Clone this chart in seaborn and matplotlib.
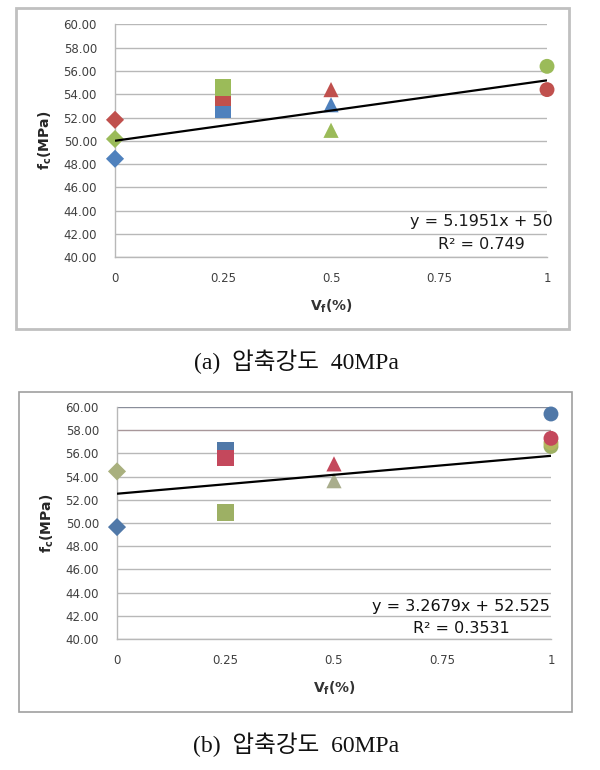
import numpy as np
import pandas as pd
import matplotlib
matplotlib.use("Agg")
import matplotlib.pyplot as plt
from matplotlib.patches import Rectangle
import seaborn as sns

# ---- data ----
vf_ticks = [0, 0.25, 0.5, 0.75, 1]
vf_tick_labels = ["0", "0.25", "0.5", "0.75", "1"]

# (a) 40 MPa
vf_40 = [0, 0, 0, 0.25, 0.25, 0.25, 0.5, 0.5, 0.5, 1, 1]
fc_40 = [48.45, 51.8, 50.15, 52.7, 53.7, 54.55, 53.1, 54.4, 50.9, 54.4, 56.4]
color_40 = ["blue", "red", "green", "blue", "red", "green",
            "blue", "red", "green", "red", "green"]
trend_40 = (5.1951, 50.0)          # slope, intercept
eq_40 = ["y = 5.1951x + 50", "R² = 0.749"]

# (b) 60 MPa
vf_60 = [0, 0, 0.25, 0.25, 0.25, 0.5, 0.5, 1, 1, 1, 1]
fc_60 = [49.65, 54.45, 56.3, 55.6, 50.9, 55.1, 53.65, 59.4, 56.6, 56.9, 57.3]
color_60 = ["blue", "olive", "blue", "red", "green", "red", "grey",
            "blue", "green", "yellow", "red"]
trend_60 = (3.2679, 52.525)
eq_60 = ["y = 3.2679x + 52.525", "R² = 0.3531"]

captions = ["(a)  압축강도  40MPa", "(b)  압축강도  60MPa"]

# ---- styling ----
pal_40 = {"blue": "#4f81bd", "red": "#c0504d", "green": "#9bbb59"}
pal_60 = {"blue": "#5078a8", "red": "#c4485c", "green": "#9db064",
          "olive": "#a9b07e", "grey": "#a9ad8c", "yellow": "#b4b65e"}
shape_of = {0: "diamond", 0.25: "square", 0.5: "triangle", 1: "circle"}
markers = {"diamond": "D", "square": "s", "triangle": "^", "circle": "o"}
sizes = {"diamond": 85, "square": 145, "triangle": 120, "circle": 115}

sns.set_theme(style="white")
plt.rcParams["font.family"] = ["DejaVu Sans", "Noto Sans CJK KR"]
plt.rcParams["mathtext.fontset"] = "dejavusans"

fig = plt.figure(figsize=(6, 7.7), dpi=100)

frames = [[0.0267, 0.5727, 0.9217, 0.4169], [0.0317, 0.0753, 0.9217, 0.4156]]
frame_style = [dict(ec="#c0c0c0", lw=2.0), dict(ec="#a0a0a0", lw=1.2)]
for rect, st in zip(frames, frame_style):
    fig.add_artist(Rectangle(rect[:2], rect[2], rect[3], transform=fig.transFigure,
                             fill=False, **st))

ax1 = fig.add_axes([0.1917, 0.6662, 0.72, 0.302])
ax2 = fig.add_axes([0.195, 0.1701, 0.7233, 0.3013])

panels = [
    (ax1, vf_40, fc_40, color_40, pal_40, trend_40, eq_40, (0.847, 43.05, 41.07), "#1a1a1a"),
    (ax2, vf_60, fc_60, color_60, pal_60, trend_60, eq_60, (0.793, 42.78, 40.87), "#111111"),
]

for ax, vf, fc, col, pal, trend, eq, eqpos, eqcol in panels:
    df = pd.DataFrame({"vf": vf, "fc": fc, "series": col,
                       "shape": [shape_of[v] for v in vf]})
    sns.scatterplot(data=df, x="vf", y="fc", hue="series", style="shape", size="shape",
                    palette=pal, markers=markers, sizes=sizes, linewidth=0,
                    legend=False, ax=ax, clip_on=False, zorder=3)
    tx = np.array([0.0, 1.0])
    ax.plot(tx, trend[0] * tx + trend[1], color="black", lw=1.6, zorder=4,
            solid_capstyle="butt")

    ax.set_xlim(0, 1)
    ax.set_ylim(40, 60)
    ax.set_xticks(vf_ticks)
    ax.set_xticklabels(vf_tick_labels)
    ax.set_yticks(np.arange(40, 61, 2))
    ax.yaxis.set_major_formatter("{x:.2f}")
    ax.tick_params(length=0, labelsize=8.5, labelcolor="#404040")
    ax.tick_params(axis="x", pad=11)
    ax.tick_params(axis="y", pad=13)
    ax.grid(axis="y", color="#b8b8b8", lw=1.0)
    ax.set_axisbelow(True)
    for s in ["top", "right"]:
        ax.spines[s].set_visible(False)
    for s in ["left", "bottom"]:
        ax.spines[s].set_color("#b8b8b8")
        ax.spines[s].set_linewidth(1.0)

    ax.set_ylabel(r"$\mathbf{f_c}$(MPa)", fontsize=10, fontweight="bold",
                  color="#262626", labelpad=7)
    ax.set_xlabel(r"$\mathbf{V_f}$(%)", fontsize=10, fontweight="bold",
                  color="#333333", labelpad=9)

    ax.text(eqpos[0], eqpos[1], eq[0], ha="center", va="center",
            fontsize=11.5, color=eqcol)
    ax.text(eqpos[0], eqpos[2], eq[1], ha="center", va="center",
            fontsize=11.5, color=eqcol)

# slight tint on the top grid lines of panel (b), as in the source image
gl = ax2.get_ygridlines()
gl[-1].set_color("#8a8e9a")
gl[-2].set_color("#a8979a")

for y, text in zip([1 - 362 / 770, 1 - 745 / 770], captions):
    fig.text(0.494, y, text, ha="center", va="center", fontsize=17,
             family=["Liberation Serif", "Noto Sans CJK KR"], color="#111111")

fig.savefig("out.png", dpi=100, facecolor="white")
